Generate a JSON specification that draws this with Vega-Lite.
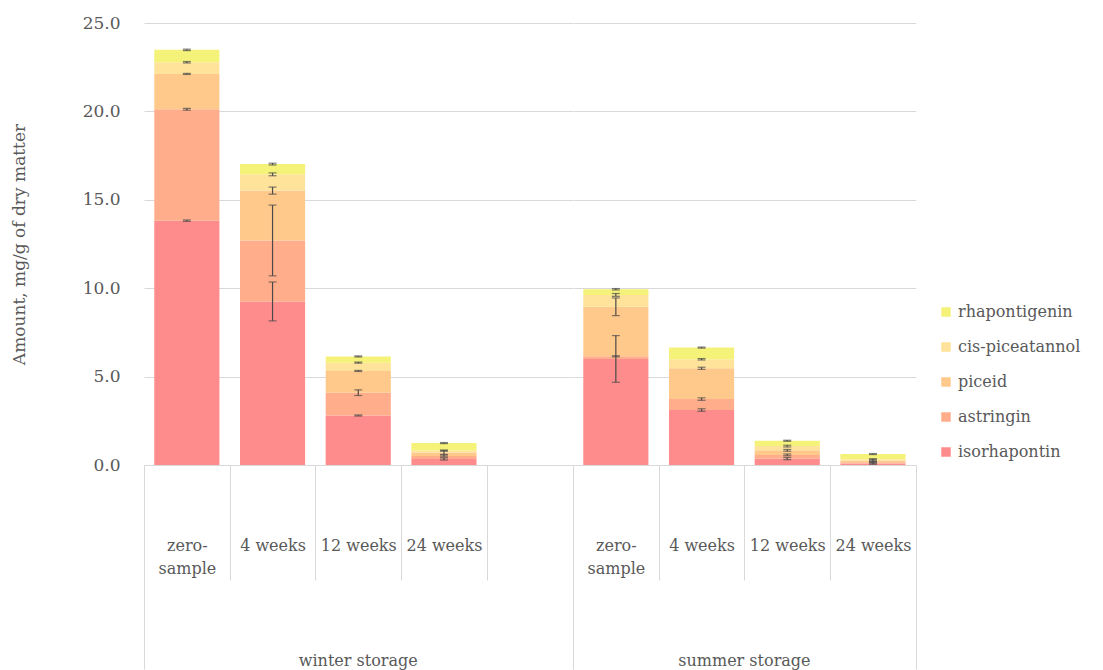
{
  "$schema": "https://vega.github.io/schema/vega-lite/v6.json",
  "padding": {"left": 10, "top": 14, "right": 0, "bottom": 0},
  "background": "white",
  "bounds": "flush",
  "data": {"values": [
    {"group": "winter storage", "cat": "zero-|sample", "compound": "isorhapontin", "k": 1, "amount": 13.82, "err": 0.04},
    {"group": "winter storage", "cat": "zero-|sample", "compound": "astringin", "k": 2, "amount": 6.30, "err": 0.05},
    {"group": "winter storage", "cat": "zero-|sample", "compound": "piceid", "k": 3, "amount": 2.00, "err": 0.03},
    {"group": "winter storage", "cat": "zero-|sample", "compound": "cis-piceatannol", "k": 4, "amount": 0.66, "err": 0.04},
    {"group": "winter storage", "cat": "zero-|sample", "compound": "rhapontigenin", "k": 5, "amount": 0.70, "err": 0.04},
    {"group": "winter storage", "cat": "4 weeks", "compound": "isorhapontin", "k": 1, "amount": 9.25, "err": 1.1},
    {"group": "winter storage", "cat": "4 weeks", "compound": "astringin", "k": 2, "amount": 3.45, "err": 2.0},
    {"group": "winter storage", "cat": "4 weeks", "compound": "piceid", "k": 3, "amount": 2.82, "err": 0.2},
    {"group": "winter storage", "cat": "4 weeks", "compound": "cis-piceatannol", "k": 4, "amount": 0.92, "err": 0.08},
    {"group": "winter storage", "cat": "4 weeks", "compound": "rhapontigenin", "k": 5, "amount": 0.58, "err": 0.05},
    {"group": "winter storage", "cat": "12 weeks", "compound": "isorhapontin", "k": 1, "amount": 2.80, "err": 0.03},
    {"group": "winter storage", "cat": "12 weeks", "compound": "astringin", "k": 2, "amount": 1.29, "err": 0.16},
    {"group": "winter storage", "cat": "12 weeks", "compound": "piceid", "k": 3, "amount": 1.23, "err": 0.03},
    {"group": "winter storage", "cat": "12 weeks", "compound": "cis-piceatannol", "k": 4, "amount": 0.47, "err": 0.03},
    {"group": "winter storage", "cat": "12 weeks", "compound": "rhapontigenin", "k": 5, "amount": 0.35, "err": 0.03},
    {"group": "winter storage", "cat": "24 weeks", "compound": "isorhapontin", "k": 1, "amount": 0.34, "err": 0.06},
    {"group": "winter storage", "cat": "24 weeks", "compound": "astringin", "k": 2, "amount": 0.17, "err": 0.05},
    {"group": "winter storage", "cat": "24 weeks", "compound": "piceid", "k": 3, "amount": 0.19, "err": 0.1},
    {"group": "winter storage", "cat": "24 weeks", "compound": "cis-piceatannol", "k": 4, "amount": 0.12, "err": 0.03},
    {"group": "winter storage", "cat": "24 weeks", "compound": "rhapontigenin", "k": 5, "amount": 0.42, "err": 0.03},
    {"group": "winter storage", "cat": "blank", "compound": "isorhapontin", "k": 1, "amount": 0, "err": null},
    {"group": "summer storage", "cat": "zero-|sample", "compound": "isorhapontin", "k": 1, "amount": 6.00, "err": 1.32},
    {"group": "summer storage", "cat": "zero-|sample", "compound": "astringin", "k": 2, "amount": 0.15, "err": 0.03},
    {"group": "summer storage", "cat": "zero-|sample", "compound": "piceid", "k": 3, "amount": 2.80, "err": 0.5},
    {"group": "summer storage", "cat": "zero-|sample", "compound": "cis-piceatannol", "k": 4, "amount": 0.67, "err": 0.08},
    {"group": "summer storage", "cat": "zero-|sample", "compound": "rhapontigenin", "k": 5, "amount": 0.32, "err": 0.04},
    {"group": "summer storage", "cat": "4 weeks", "compound": "isorhapontin", "k": 1, "amount": 3.11, "err": 0.07},
    {"group": "summer storage", "cat": "4 weeks", "compound": "astringin", "k": 2, "amount": 0.62, "err": 0.07},
    {"group": "summer storage", "cat": "4 weeks", "compound": "piceid", "k": 3, "amount": 1.74, "err": 0.06},
    {"group": "summer storage", "cat": "4 weeks", "compound": "cis-piceatannol", "k": 4, "amount": 0.51, "err": 0.04},
    {"group": "summer storage", "cat": "4 weeks", "compound": "rhapontigenin", "k": 5, "amount": 0.66, "err": 0.03},
    {"group": "summer storage", "cat": "12 weeks", "compound": "isorhapontin", "k": 1, "amount": 0.36, "err": 0.06},
    {"group": "summer storage", "cat": "12 weeks", "compound": "astringin", "k": 2, "amount": 0.21, "err": 0.05},
    {"group": "summer storage", "cat": "12 weeks", "compound": "piceid", "k": 3, "amount": 0.26, "err": 0.05},
    {"group": "summer storage", "cat": "12 weeks", "compound": "cis-piceatannol", "k": 4, "amount": 0.24, "err": 0.05},
    {"group": "summer storage", "cat": "12 weeks", "compound": "rhapontigenin", "k": 5, "amount": 0.30, "err": 0.03},
    {"group": "summer storage", "cat": "24 weeks", "compound": "isorhapontin", "k": 1, "amount": 0.08, "err": 0.04},
    {"group": "summer storage", "cat": "24 weeks", "compound": "astringin", "k": 2, "amount": 0.07, "err": 0.04},
    {"group": "summer storage", "cat": "24 weeks", "compound": "piceid", "k": 3, "amount": 0.09, "err": 0.05},
    {"group": "summer storage", "cat": "24 weeks", "compound": "cis-piceatannol", "k": 4, "amount": 0.08, "err": 0.04},
    {"group": "summer storage", "cat": "24 weeks", "compound": "rhapontigenin", "k": 5, "amount": 0.30, "err": 0.03}
  ]},
  "transform": [
    {"stack": "amount", "groupby": ["group", "cat"], "sort": [{"field": "k", "order": "ascending"}], "as": ["v0", "v1"]},
    {"calculate": "datum.err == null ? null : datum.v1 - datum.err", "as": "lo"},
    {"calculate": "datum.err == null ? null : datum.v1 + datum.err", "as": "hi"}
  ],
  "facet": {
    "column": {
      "field": "group", "type": "nominal",
      "sort": ["winter storage", "summer storage"],
      "header": {"title": null, "labelOrient": "bottom", "labelFont": "DejaVu Serif", "labelFontSize": 16, "labelColor": "#595959", "labelPadding": 188}
    }
  },
  "spacing": 0,
  "resolve": {"scale": {"x": "independent"}},
  "spec": {
    "width": {"step": 85.7},
    "height": 442,
    "layer": [
      {
        "mark": {"type": "bar", "width": {"band": 0.76}},
        "encoding": {
          "x": {
            "field": "cat", "type": "nominal",
            "sort": ["zero-|sample", "4 weeks", "12 weeks", "24 weeks", "blank"],
            "scale": {"paddingInner": 0, "paddingOuter": 0},
            "axis": {
              "title": null, "labelAngle": 0, "labelBaseline": "top",
              "labelExpr": "datum.label == 'blank' ? '' : split(datum.label, '|')",
              "labelFont": "DejaVu Serif", "labelFontSize": 16, "labelColor": "#595959",
              "labelPadding": {"condition": {"test": "datum.index == 1", "value": -132}, "value": -43},
              "labelLineHeight": 23,
              "tickBand": "extent",
              "tickColor": "#d9d9d9",
              "tickSize": {"condition": {"test": "datum.index == -1 || datum.index == 1", "value": 204}, "value": 115},
              "domainColor": "#d9d9d9"
            }
          },
          "y": {
            "field": "v0", "type": "quantitative",
            "title": "Amount, mg/g of dry matter",
            "scale": {"domain": [0, 25], "nice": false},
            "axis": {
              "values": [0, 5, 10, 15, 20, 25], "format": ".1f",
              "domain": false, "ticks": false, "labelPadding": 24,
              "labelFont": "DejaVu Serif", "labelFontSize": 17, "labelColor": "#595959",
              "gridColor": "#d9d9d9",
              "titleFont": "DejaVu Serif", "titleFontSize": 17, "titleFontWeight": "normal", "titleColor": "#595959",
              "titlePadding": 54
            }
          },
          "y2": {"field": "v1"},
          "color": {
            "field": "compound", "type": "nominal",
            "scale": {
              "domain": ["rhapontigenin", "cis-piceatannol", "piceid", "astringin", "isorhapontin"],
              "range": ["#F5F27A", "#FFE39A", "#FFC98B", "#FFAD8A", "#FF8C8C"]
            },
            "legend": {
              "title": null, "orient": "none", "legendX": 794, "legendY": 281,
              "symbolType": "square", "symbolSize": 90, "symbolStrokeWidth": 0,
              "labelFont": "DejaVu Serif", "labelFontSize": 16, "labelColor": "#595959",
              "rowPadding": 19
            }
          }
        }
      },
      {
        "transform": [{"filter": "datum.err != null"}],
        "mark": {"type": "errorbar", "ticks": {"size": 8}, "color": "#4a4a4a", "thickness": 1.2},
        "encoding": {
          "x": {"field": "cat", "type": "nominal", "sort": ["zero-|sample", "4 weeks", "12 weeks", "24 weeks", "blank"]},
          "y": {"field": "lo", "type": "quantitative", "title": "Amount, mg/g of dry matter"},
          "y2": {"field": "hi"}
        }
      }
    ]
  },
  "config": {
    "view": {"stroke": null},
    "font": "DejaVu Serif"
  }
}
